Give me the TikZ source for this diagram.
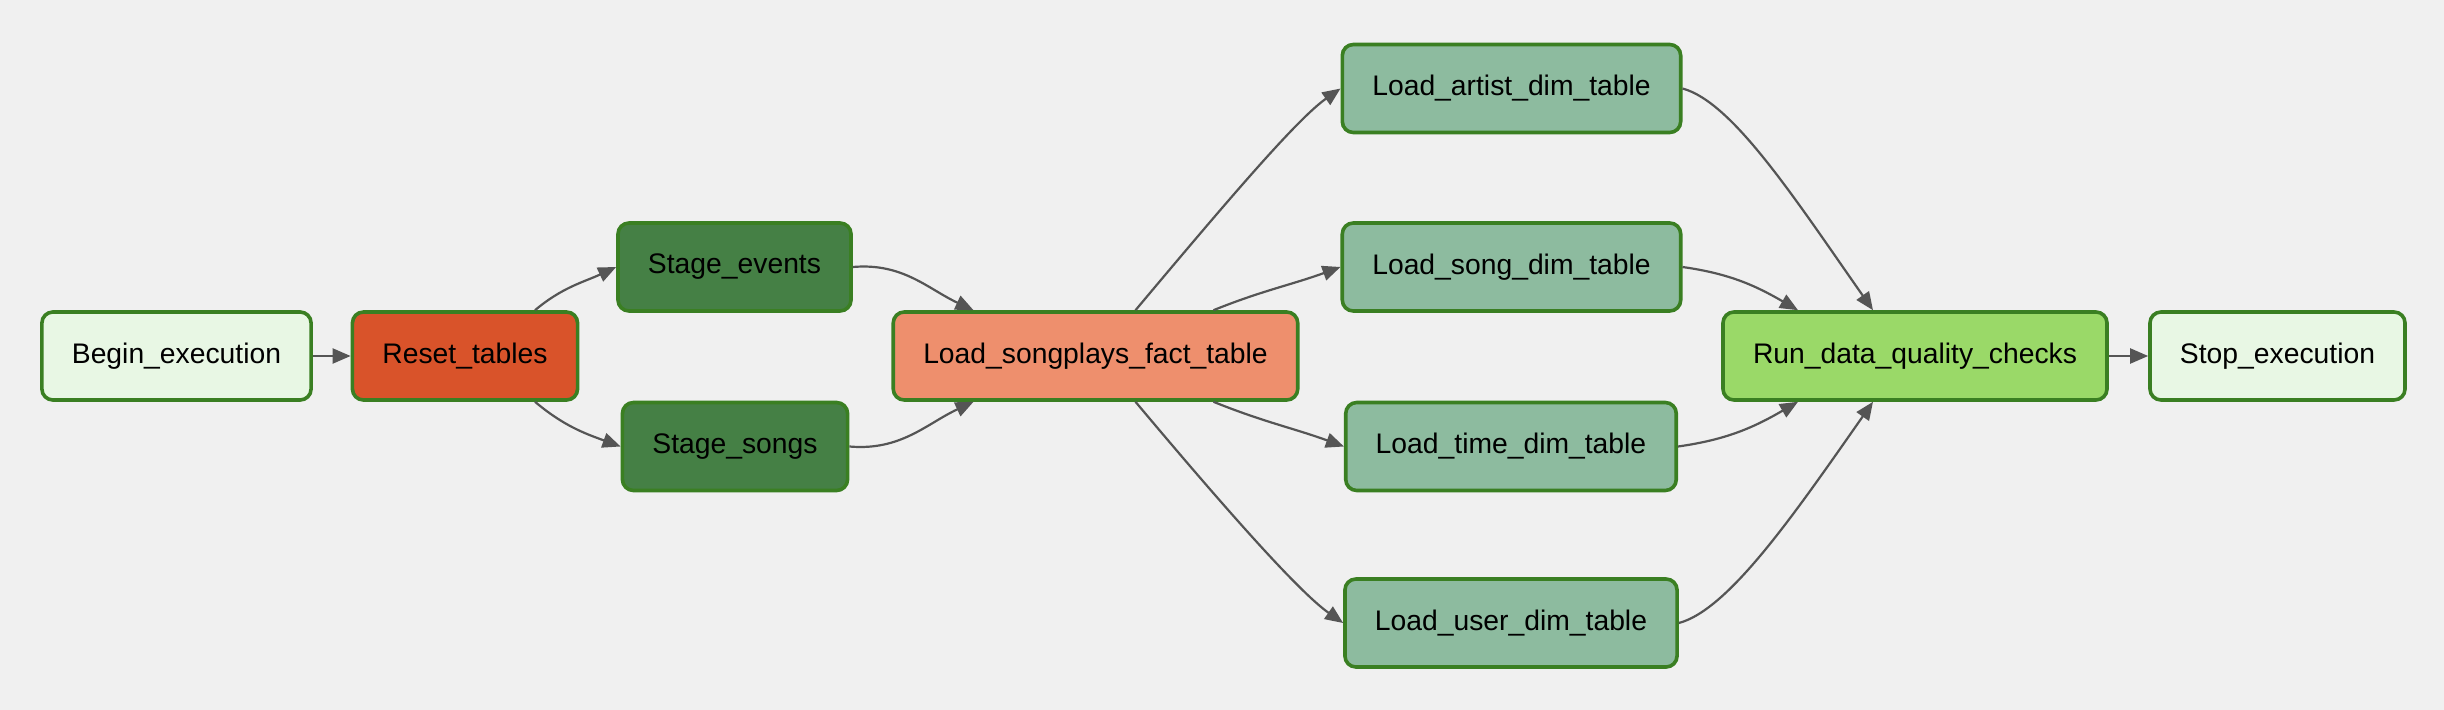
\documentclass[tikz,border=0pt]{standalone}
\usepackage{fontspec}
\setmainfont{Liberation Sans}
\usepackage{tikz}
\usetikzlibrary{positioning,calc,arrows.meta}
\definecolor{Canvas}{HTML}{F0F0F0}
\definecolor{Border}{HTML}{3A7F22}
\definecolor{Wire}{HTML}{555555}
\definecolor{DummyFill}{HTML}{E8F7E4}
\definecolor{ResetFill}{HTML}{D9532A}
\definecolor{StageFill}{HTML}{458045}
\definecolor{FactFill}{HTML}{EE8F6D}
\definecolor{DimFill}{HTML}{8DBB9F}
\definecolor{CheckFill}{HTML}{9AD968}

\tikzset{
	task/.style={
		draw=Border,
		line width=0.036cm,
		rounded corners=0.11cm,
		inner xsep=0.30cm,
		minimum height=0.88cm,
		font=\fontsize{8.05}{9.7}\selectfont,
		text=black
	},
	dagedge/.style={
		draw=Wire,
		line width=0.022cm,
		-{Triangle[length=0.18cm,width=0.15cm]}
	}
}

\begin{document}
\begin{tikzpicture}
			\fill[Canvas] (0,0) rectangle (24.44,-7.10);
			\useasboundingbox (0,0) rectangle (24.44,-7.10);
			
			\node[task, fill=DummyFill] (begin) at (1.765,-3.56) {Begin\_execution};
			\node[task, fill=ResetFill] (reset) at (4.65,-3.56) {Reset\_tables};
			\node[task, fill=StageFill] (sevents) at (7.345,-2.67) {Stage\_events};
			\node[task, fill=StageFill] (ssongs) at (7.35,-4.465) {Stage\_songs};
			\node[task, fill=FactFill] (fact) at (10.955,-3.56) {Load\_songplays\_fact\_table};
			\node[task, fill=DimFill] (artist) at (15.115,-0.885) {Load\_artist\_dim\_table};
			\node[task, fill=DimFill] (songdim) at (15.115,-2.67) {Load\_song\_dim\_table};
			\node[task, fill=DimFill] (timedim) at (15.11,-4.465) {Load\_time\_dim\_table};
			\node[task, fill=DimFill] (userdim) at (15.11,-6.23) {Load\_user\_dim\_table};
			\node[task, fill=CheckFill] (checks) at (19.15,-3.56) {Run\_data\_quality\_checks};
			\node[task, fill=DummyFill] (stop) at (22.775,-3.56) {Stop\_execution};
			
			\draw[dagedge] (begin) -- (reset);
			\draw[dagedge] ([xshift=0.7cm]reset.north) to[out=40,in=205] (sevents.west);
			\draw[dagedge] ([xshift=0.7cm]reset.south) to[out=-40,in=160] (ssongs.west);
			\draw[dagedge] (sevents.east) to[out=5,in=155] ([xshift=-1.22cm]fact.north);
			\draw[dagedge] (ssongs.east) to[out=-5,in=205] ([xshift=-1.22cm]fact.south);
			\draw[dagedge] ([xshift=0.4cm]fact.north) to[out=50,in=215,out looseness=1.2,in looseness=0.45] (artist.west);
			\draw[dagedge] ([xshift=1.18cm]fact.north) to[out=22,in=200] (songdim.west);
			\draw[dagedge] ([xshift=1.18cm]fact.south) to[out=-22,in=160] (timedim.west);
			\draw[dagedge] ([xshift=0.4cm]fact.south) to[out=-50,in=145,out looseness=1.2,in looseness=0.45] (userdim.west);
			\draw[dagedge] (artist.east) to[out=-15,in=125,out looseness=0.45,in looseness=1.2] ([xshift=-0.42cm]checks.north);
			\draw[dagedge] (songdim.east) to[out=-8,in=150] ([xshift=-1.17cm]checks.north);
			\draw[dagedge] (timedim.east) to[out=8,in=210] ([xshift=-1.17cm]checks.south);
			\draw[dagedge] (userdim.east) to[out=15,in=235,out looseness=0.45,in looseness=1.2] ([xshift=-0.42cm]checks.south);
			\draw[dagedge] (checks) -- (stop);
		\end{tikzpicture}
\end{document}
